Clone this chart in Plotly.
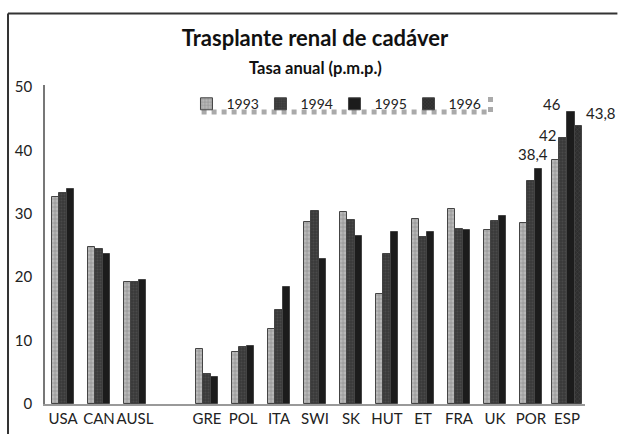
import plotly.graph_objects as go

# categorias (el hueco separa USA/CAN/AUSL del resto)
paises = ["USA", "CAN", "AUSL", "GRE", "POL", "ITA", "SWI", "SK", "HUT", "ET", "FRA", "UK", "POR", "ESP"]
orden_eje = ["USA", "CAN", "AUSL", " ", "GRE", "POL", "ITA", "SWI", "SK", "HUT", "ET", "FRA", "UK", "POR", "ESP"]

anios = ["1993", "1994", "1995", "1996"]
v1993 = [32.6, 24.7, 19.2, 8.7, 8.2, 11.8, 28.7, 30.2, 17.3, 29.2, 30.8, 27.4, 28.6, 38.4]
v1994 = [33.3, 24.4, 19.2, 4.7, 9.0, 14.9, 30.4, 29.0, 23.6, 26.3, 27.6, 28.8, 35.1, 42.0]
v1995 = [33.9, 23.6, 19.5, 4.3, 9.2, 18.5, 22.8, 26.5, 27.2, 27.2, 27.4, 29.6, 37.0, 46.0]
v1996 = [None, None, None, None, None, None, None, None, None, None, None, None, None, 43.8]

# etiquetas de España
etiquetas_esp = ["38,4", "42", "46", "43,8"]

series = [v1993, v1994, v1995, v1996]
estilos = [
    dict(color="#b8b8b8", pattern=dict(shape="+", fgcolor="#6e6e6e", size=4, solidity=0.35)),
    dict(color="#3a3a3a", pattern=dict(shape=".", fgcolor="#5a5a5a", size=3, solidity=0.3)),
    dict(color="#1c1c1c"),
    dict(color="#2f2f2f", pattern=dict(shape="x", fgcolor="#555555", size=3, solidity=0.3)),
]

ancho = 0.21

# cada grupo se centra segun las barras que tiene
n_barras = [sum(s[j] is not None for s in series) for j in range(len(paises))]

fig = go.Figure()
for i, (anio, vals) in enumerate(zip(anios, series)):
    offsets = []
    for j in range(len(paises)):
        k = sum(series[m][j] is not None for m in range(i))
        offsets.append((k - n_barras[j] / 2) * ancho)
    fig.add_trace(go.Bar(
        x=paises,
        y=vals,
        name=anio,
        width=ancho,
        offset=offsets,
        marker=dict(line=dict(color="#444444", width=1), **estilos[i]),
    ))

# valores rotulados sobre las barras de ESP
desplaz = [(-17, -5, "right"), (-9, -8, "right"), (-4, -3, "right"), (17, 2, "left")]
for s, txt, (dx, dy, anc) in zip(series, etiquetas_esp, desplaz):
    fig.add_annotation(x="ESP", y=s[-1], text=txt, showarrow=False,
                       xanchor=anc, yanchor="bottom", xshift=dx, yshift=dy,
                       font=dict(size=15, color="#222"))

fig.add_annotation(text="<b>Tasa anual (p.m.p.)</b>", xref="paper", yref="paper",
                   x=0.5, y=1.053, showarrow=False, yanchor="middle",
                   font=dict(size=16.5, color="#111"))

# marco del recorte y sombra rayada de la leyenda
fig.add_shape(type="line", xref="paper", yref="paper", x0=-0.0685, x1=-0.0685,
              y0=-0.12, y1=1.224, line=dict(color="#333", width=2))
fig.add_shape(type="line", xref="paper", yref="paper", x0=-0.0685, x1=1.06,
              y0=1.224, y1=1.224, line=dict(color="#333", width=2))
fig.add_shape(type="line", xref="paper", yref="paper", x0=0.29, x1=0.825,
              y0=0.915, y1=0.915, line=dict(color="#aaaaaa", width=5, dash="dot"))
fig.add_shape(type="line", xref="paper", yref="paper", x0=0.825, x1=0.825,
              y0=0.915, y1=0.965, line=dict(color="#aaaaaa", width=5, dash="dot"))

fig.update_layout(
    width=618,
    height=434,
    barmode="overlay",
    bargap=0,
    plot_bgcolor="white",
    paper_bgcolor="white",
    font=dict(family="Lato", size=15, color="#222"),
    margin=dict(l=45, r=33, t=85, b=30, autoexpand=False),
    title=dict(text="<b>Trasplante renal de cadáver</b>", x=0.5, xref="paper",
               xanchor="center", y=0.912, yanchor="middle",
               font=dict(size=22, color="#111")),
    legend=dict(orientation="h", x=0.262, y=0.99, xanchor="left", yanchor="top",
                bgcolor="rgba(0,0,0,0)", font=dict(size=14),
                itemwidth=30, entrywidth=29, traceorder="normal"),
    xaxis=dict(
        type="category",
        categoryorder="array",
        categoryarray=orden_eje,
        range=[-0.5, len(orden_eje) - 0.5],
        showline=True, linecolor="#999", linewidth=1.5,
        showgrid=False, ticks="", tickangle=0, automargin=False,
        tickfont=dict(size=15),
    ),
    yaxis=dict(
        range=[0, 50.3],
        tickvals=[0, 10, 20, 30, 40, 50],
        showline=True, linecolor="#777", linewidth=1.5,
        showgrid=False, zeroline=False, ticks="", automargin=False,
        ticklabelstandoff=8, tickfont=dict(size=15),
    ),
    showlegend=True,
)

fig.write_html("out.html", config={"displayModeBar": False},
               post_script="document.body.style.margin='0';document.body.style.overflow='hidden';")
